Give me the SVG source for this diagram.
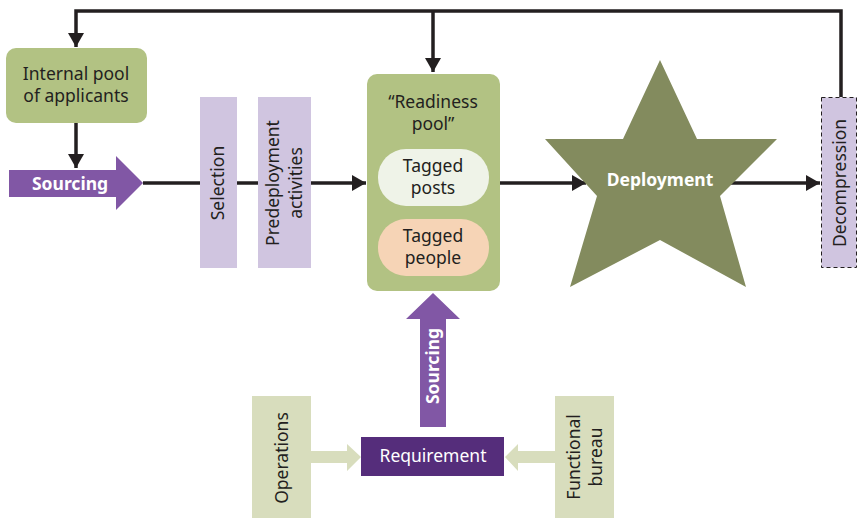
<svg xmlns="http://www.w3.org/2000/svg" width="858" height="518" viewBox="0 0 858 518">
<defs>
<style>
.t{font-family:"Noto Sans","Open Sans","Liberation Sans",sans-serif;font-size:17.5px;fill:#231f20;text-anchor:middle}
.w{fill:#ffffff}
.b{font-weight:bold}
.ln{fill:none;stroke:#231f20;stroke-width:3.5}
.lp{fill:#d0c5e0}
.lg{fill:#d8ddbd}
</style>
<marker id="ah" viewBox="0 0 14 16" refX="14" refY="8" markerWidth="14" markerHeight="16" markerUnits="userSpaceOnUse" orient="auto">
<path d="M0,0 L14,8 L0,16 Z" fill="#231f20"/>
</marker>
</defs>
<rect width="858" height="518" fill="#ffffff"/>

<g id="connectors">
<path class="ln" d="M841,97 V11 H76 V47" marker-end="url(#ah)"/>
<path class="ln" d="M433,11 V72" marker-end="url(#ah)"/>
<path class="ln" d="M76,123 V168" marker-end="url(#ah)"/>
<path class="ln" d="M143,183 H366" marker-end="url(#ah)"/>
<path class="ln" d="M500,183 H586" marker-end="url(#ah)"/>
<path class="ln" d="M729,183 H820" marker-end="url(#ah)"/>
<path class="lg" d="M311,451 H347 V444 L361,457 L347,471 V463 H311 Z"/>
<path class="lg" d="M555,451 H518 V444 L505,457 L518,471 V463 H555 Z"/>
</g>

<g id="internal-pool">
<rect x="6" y="48" width="141" height="75" rx="10" fill="#b2c283"/>
<text class="t" x="76" y="80">Internal pool</text>
<text class="t" x="76" y="102">of applicants</text>
</g>

<g id="sourcing-left">
<path d="M9,170 H116 V156 L143,183 L116,210 V197 H9 Z" fill="#8157a5"/>
<text class="t w b" x="70" y="190">Sourcing</text>
</g>

<g id="selection">
<rect class="lp" x="200" y="97" width="37" height="171"/>
<text class="t" transform="translate(224,183) rotate(-90)">Selection</text>
</g>

<g id="predeployment">
<rect class="lp" x="258" y="97" width="53" height="171"/>
<text class="t" transform="translate(279,183) rotate(-90)">Predeployment</text>
<text class="t" transform="translate(302,183) rotate(-90)">activities</text>
</g>

<g id="readiness-pool">
<rect x="367" y="74" width="133" height="217" rx="10" fill="#b2c283"/>
<text class="t" x="433" y="108">“Readiness</text>
<text class="t" x="433" y="130">pool”</text>
</g>

<g id="tagged-posts">
<rect x="378" y="149" width="111" height="57" rx="28" fill="#eff3e8"/>
<text class="t" x="433" y="172">Tagged</text>
<text class="t" x="433" y="194">posts</text>
</g>

<g id="tagged-people">
<rect x="378" y="219" width="111" height="57" rx="28" fill="#f6d4b6"/>
<text class="t" x="433" y="242">Tagged</text>
<text class="t" x="433" y="264">people</text>
</g>

<g id="deployment">
<polygon points="660,60 697,139 777,139 720,196 746,287 660,240 570,287 597,196 545,139 623,139" fill="#838b5e"/>
<text class="t w b" x="660" y="186">Deployment</text>
</g>

<g id="decompression">
<rect x="821.5" y="97.5" width="35" height="170" fill="#d0c5e0" stroke="#231f20" stroke-width="1" stroke-dasharray="4,3"/>
<text class="t" transform="translate(846,183) rotate(-90)">Decompression</text>
</g>

<g id="sourcing-up">
<path d="M420,427 V319 H406 L433,293 L460,319 H446 V427 Z" fill="#8157a5"/>
<text class="t w b" transform="translate(439,366) rotate(-90)">Sourcing</text>
</g>

<g id="requirement">
<rect x="361" y="437" width="143" height="39" fill="#552d7b"/>
<text class="t w" x="433" y="462">Requirement</text>
</g>

<g id="operations">
<rect class="lg" x="252" y="396" width="59" height="122"/>
<text class="t" transform="translate(288,458) rotate(-90)">Operations</text>
</g>

<g id="functional-bureau">
<rect class="lg" x="555" y="396" width="59" height="122"/>
<text class="t" transform="translate(580,457) rotate(-90)">Functional</text>
<text class="t" transform="translate(602,457) rotate(-90)">bureau</text>
</g>
</svg>
